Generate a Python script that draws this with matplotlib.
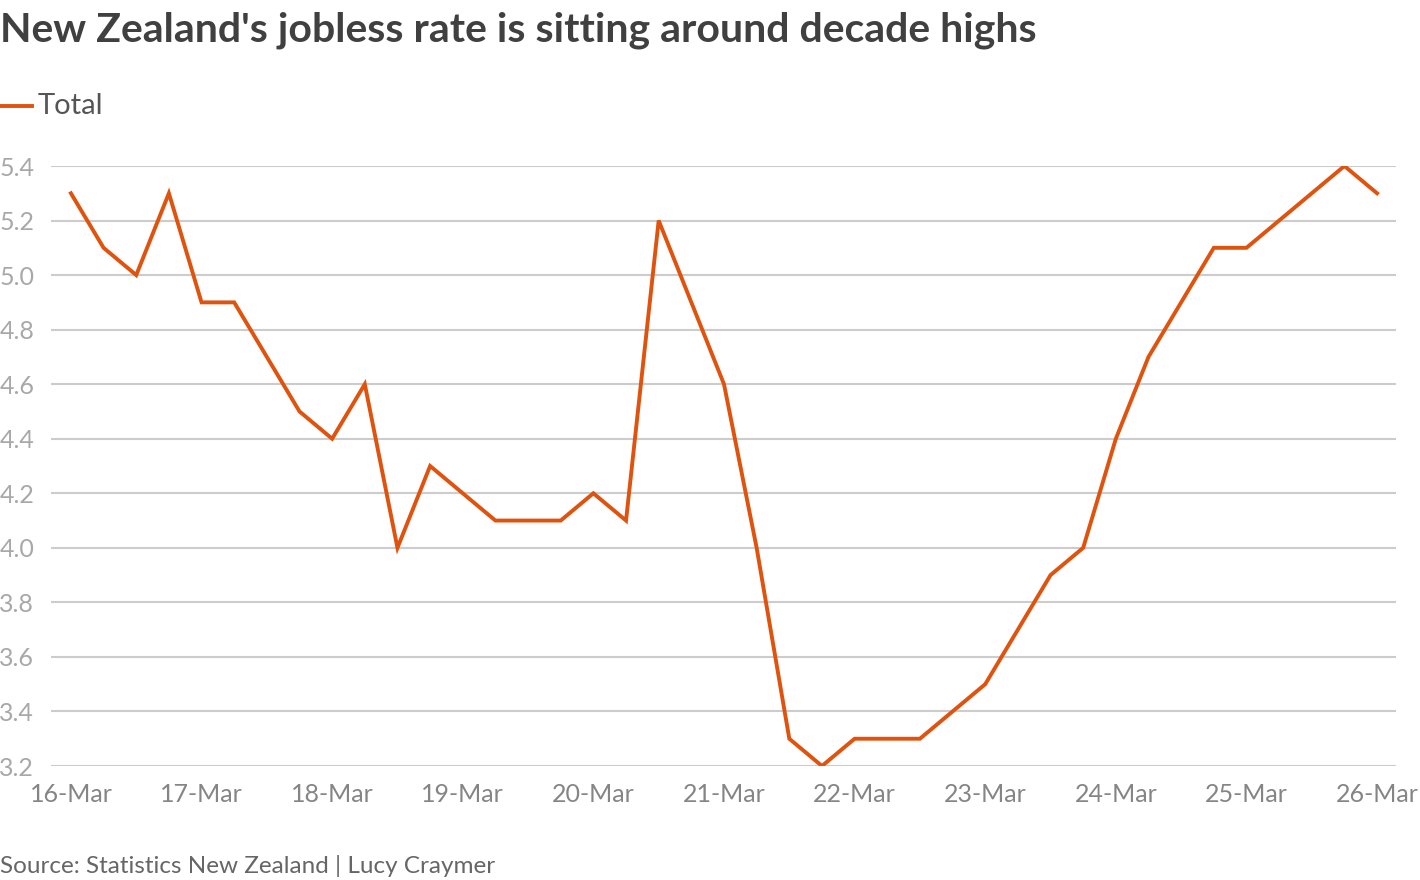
import matplotlib
matplotlib.use("Agg")
import matplotlib.pyplot as plt

# Quarterly unemployment rate, Mar-2016 .. Mar-2026
rate = [5.3, 5.1, 5.0, 5.3,
        4.9, 4.9, 4.7, 4.5,
        4.4, 4.6, 4.0, 4.3,
        4.2, 4.1, 4.1, 4.1,
        4.2, 4.1, 5.2, 4.9,
        4.6, 4.0, 3.3, 3.2,
        3.3, 3.3, 3.3, 3.4,
        3.5, 3.7, 3.9, 4.0,
        4.4, 4.7, 4.9, 5.1,
        5.1, 5.2, 5.3, 5.4,
        5.3]
tick_labels = ["16-Mar", "17-Mar", "18-Mar", "19-Mar", "20-Mar", "21-Mar",
               "22-Mar", "23-Mar", "24-Mar", "25-Mar", "26-Mar"]
y_ticks = [3.2, 3.4, 3.6, 3.8, 4.0, 4.2, 4.4, 4.6, 4.8, 5.0, 5.2, 5.4]

plt.rcParams['font.family'] = ['Lato', 'DejaVu Sans']

fig = plt.figure(figsize=(14.2, 8.8), dpi=100)
ax = fig.add_axes([51 / 1420, 1 - 766 / 880, (1396 - 51) / 1420, (766 - 166) / 880])

x = list(range(len(rate)))
ax.plot(x, rate, color='#e0530f', lw=2.8, solid_joinstyle='miter')

ax.set_ylim(3.2, 5.4)
ax.set_xlim(-0.61, 40.58)
ax.set_yticks(y_ticks)
ax.set_yticklabels([f"{v:.1f}" for v in y_ticks])
ax.set_xticks(range(0, len(rate), 4))
ax.set_xticklabels(tick_labels)

ax.grid(axis='y', color='#cccccc', lw=1.5)
ax.set_axisbelow(True)
for s in ax.spines.values():
    s.set_visible(False)
ax.tick_params(axis='both', length=0)
ax.tick_params(axis='y', pad=12, labelsize=18, labelcolor='#a8a8a8')
ax.tick_params(axis='x', pad=12, labelsize=18, labelcolor='#858585')

fig.text(0.0, 1 - 30 / 880, "New Zealand's jobless rate is sitting around decade highs",
         fontsize=29.5, fontweight='bold', color='#404040', va='center', ha='left')

# legend
fig.lines.append(plt.Line2D([0, 32 / 1420], [1 - 106 / 880] * 2, color='#e0530f', lw=2.8,
                            transform=fig.transFigure))
fig.text(38 / 1420, 1 - 106 / 880, "Total", fontsize=21,
         color='#555555', va='center', ha='left')

fig.text(0.0, 1 - 866 / 880, "Source: Statistics New Zealand | Lucy Craymer",
         fontsize=17.5, color='#666666', va='center', ha='left')

fig.savefig("out.png", dpi=100)
